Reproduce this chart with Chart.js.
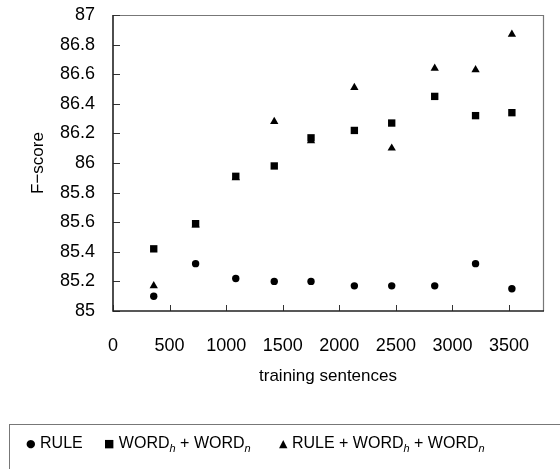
<!DOCTYPE html>
<html>
<head>
<meta charset="utf-8">
<script src="https://cdn.jsdelivr.net/npm/chart.js@4/dist/chart.umd.min.js"></script>
<style>
  html,body{margin:0;padding:0;background:#fff;}
  #wrap{position:relative;width:560px;height:469px;overflow:hidden;}
  #c{position:absolute;left:0;top:0;}
  #legend{position:absolute;left:9px;top:424px;width:600px;height:60px;border:1px solid #777;box-sizing:border-box;
    font-family:"Liberation Sans",Arial,sans-serif;font-size:16px;color:#000;}
  #legend span.it{position:absolute;top:9px;white-space:nowrap;}
  #legend sub{font-style:italic;font-size:11px;vertical-align:-4px;line-height:0;}
  .mk{font-family:"DejaVu Sans",sans-serif;}
</style>
</head>
<body>
<div id="wrap">
<canvas id="c" width="560" height="469"></canvas>
<div id="legend">
  <span class="it" style="left:16px"><span class="mk" style="font-size:11px;vertical-align:1px">●</span>&nbsp;RULE</span>
  <span class="it" style="left:94px"><span class="mk" style="font-size:11px;vertical-align:1px">■</span>&nbsp;WORD<sub>h</sub> + WORD<sub>n</sub></span>
  <span class="it" style="left:269px"><span class="mk" style="font-size:11px;vertical-align:1px">▲</span>&nbsp;RULE + WORD<sub>h</sub> + WORD<sub>n</sub></span>
</div>
</div>
<script>
const sentences = [360, 730, 1085, 1425, 1750, 2133, 2463, 2843, 3204, 3525];
const ruleScores = [85.10, 85.32, 85.22, 85.20, 85.20, 85.17, 85.17, 85.17, 85.32, 85.15];
const wordScores = [85.42, 85.59, 85.91, 85.98, 86.17, 86.22, 86.27, 86.45, 86.32, 86.34];
const ruleWordScores = [85.17, 85.58, 85.90, 86.28, 86.15, 86.51, 86.10, 86.64, 86.63, 86.87];
const xTickValues = [0, 500, 1000, 1500, 2000, 2500, 3000, 3500];
const yTickValues = [85, 85.2, 85.4, 85.6, 85.8, 86, 86.2, 86.4, 86.6, 86.8, 87];

const toPts = (ys) => sentences.map((x, i) => ({x: x, y: ys[i]}));
const FONT = '"Liberation Sans", Arial, sans-serif';

const framePlugin = {
  id: 'frame',
  afterDraw(chart) {
    const {ctx, chartArea: a, scales} = chart;
    ctx.save();
    ctx.strokeStyle = '#777';
    ctx.lineWidth = 1.2;
    ctx.beginPath();
    ctx.moveTo(a.left, a.top + 0.5); ctx.lineTo(a.right + 0.5, a.top + 0.5); ctx.lineTo(a.right + 0.5, a.bottom);
    ctx.stroke();
    ctx.strokeStyle = '#333';
    ctx.lineWidth = 1;
    ctx.beginPath();
    scales.x.ticks.forEach(t => {
      const px = Math.round(scales.x.getPixelForValue(t.value)) + 0.5;
      ctx.moveTo(px, a.bottom); ctx.lineTo(px, a.bottom - 6);
    });
    scales.y.ticks.forEach(t => {
      const py = Math.round(scales.y.getPixelForValue(t.value)) + 0.5;
      ctx.moveTo(a.left, py); ctx.lineTo(a.left + 7, py);
    });
    ctx.stroke();
    ctx.strokeStyle = '#222';
    ctx.lineWidth = 1.6;
    ctx.beginPath();
    ctx.moveTo(a.left, a.top); ctx.lineTo(a.left, a.bottom); ctx.lineTo(a.right + 1, a.bottom);
    ctx.stroke();
    ctx.restore();
  }
};

new Chart(document.getElementById('c'), {
  type: 'scatter',
  data: {
    datasets: [
      {label: 'RULE', data: toPts(ruleScores), pointStyle: 'circle', pointRadius: 3.7, backgroundColor: '#000', borderColor: '#000', borderWidth: 0},
      {label: 'WORDh + WORDn', data: toPts(wordScores), pointStyle: 'rect', pointRadius: 5.2, backgroundColor: '#000', borderColor: '#000', borderWidth: 0},
      {label: 'RULE + WORDh + WORDn', data: toPts(ruleWordScores), pointStyle: 'triangle', pointRadius: 4.8, backgroundColor: '#000', borderColor: '#000', borderWidth: 0}
    ]
  },
  options: {
    responsive: false,
    animation: false,
    devicePixelRatio: 1,
    layout: {padding: {left: 0, right: 17, top: 15, bottom: 78}},
    plugins: {legend: {display: false}, tooltip: {enabled: false}},
    scales: {
      x: {
        type: 'linear', min: 0, max: 3800,
        afterBuildTicks: (s) => { s.ticks = xTickValues.map(v => ({value: v})); },
        afterFit: (s) => { s.height = 80; s.paddingLeft = 0; s.paddingRight = 0; },
        grid: {display: false, drawTicks: false},
        border: {display: false},
        ticks: {padding: 24, color: '#000', font: {family: FONT, size: 18}, maxRotation: 0, autoSkip: false,
                callback: (v) => String(v)},
        title: {display: true, text: 'training sentences', color: '#000', font: {family: FONT, size: 17}, padding: {top: 0, bottom: 4}}
      },
      y: {
        type: 'linear', min: 85, max: 87,
        afterBuildTicks: (s) => { s.ticks = yTickValues.map(v => ({value: v})); },
        afterFit: (s) => { s.width = 113; s.paddingTop = 0; s.paddingBottom = 0; },
        grid: {display: false, drawTicks: false},
        border: {display: false},
        ticks: {padding: 18, color: '#000', font: {family: FONT, size: 18}, autoSkip: false,
                callback: (v) => String(Number(v.toFixed(1)))},
        title: {display: true, text: 'F−score', color: '#000', font: {family: FONT, size: 17}, padding: {top: 28, bottom: 0}}
      }
    }
  },
  plugins: [framePlugin]
});
</script>
</body>
</html>
